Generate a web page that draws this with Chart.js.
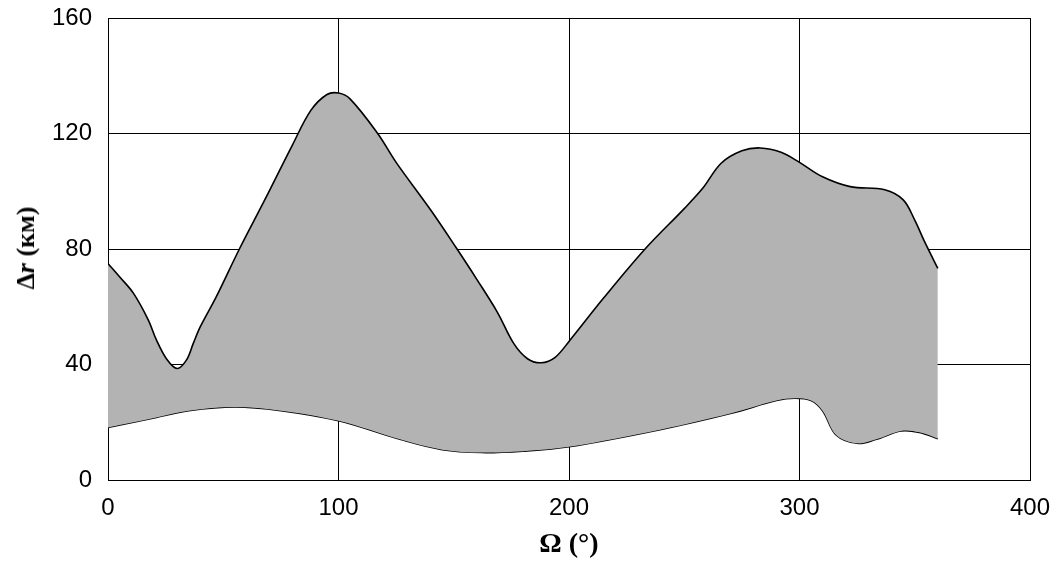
<!DOCTYPE html>
<html>
<head>
<meta charset="utf-8">
<script src="https://cdn.jsdelivr.net/npm/chart.js@4/dist/chart.umd.min.js"></script>
<style>
  html, body { margin: 0; padding: 0; background: #fff; }
  #wrap { position: relative; width: 1056px; height: 563px; }
  #ytitle {
    position: absolute; left: 26px; top: 248px;
    transform: translate(-50%, -50%) rotate(-90deg);
    font: bold 26px "Liberation Serif", "Times New Roman", serif;
    color: #000; white-space: nowrap;
  }
</style>
</head>
<body>
<div id="wrap">
  <canvas id="c" width="1056" height="563"></canvas>
  <div id="ytitle">Δ<i>r</i> (км)</div>
</div>
<script>
// Upper curve Δr (km) vs Ω (deg)
const upperOmega = [0, 5, 11, 17.5, 21, 25.5, 30, 34, 37, 40, 47, 57, 68, 80, 88, 95, 100, 105, 117, 125, 140, 151, 160, 169, 176, 182, 188, 194, 200, 215, 233, 250, 258, 266, 275, 283, 292, 300, 310, 322, 337, 345, 350, 354, 360];
const upperDr    = [75, 70.4, 64.7, 55.4, 48.5, 41.8, 38.6, 41.5, 47.3, 53, 63.5, 80, 97, 116, 128, 133.5, 134, 132, 120, 110, 93.5, 80.5, 69.5, 58, 47.3, 42, 40.6, 42.5, 48, 63, 80, 94, 101, 109.7, 114, 115, 113.5, 110, 105, 101.6, 100.5, 97, 90, 83, 73.3];
// Lower curve
const lowerOmega = [0, 20, 35, 55, 75, 100, 127, 145, 162, 180, 200, 240, 270, 290, 298, 305, 310, 316, 325, 333, 344, 352, 360];
const lowerDr    = [18.2, 21.5, 24, 25.3, 24, 20.5, 14, 10.5, 9.5, 10, 11.5, 17.5, 23, 27.5, 28.3, 27.5, 24, 15.5, 12.7, 14, 17, 16.5, 14.3];

const xTicks = [0, 100, 200, 300, 400];
const yTicks = [0, 40, 80, 120, 160];

const toPts = (xs, ys) => xs.map((x, i) => ({ x: x, y: ys[i] }));

new Chart(document.getElementById('c'), {
  type: 'line',
  data: {
    datasets: [
      {
        data: toPts(upperOmega, upperDr),
        borderColor: '#000', borderWidth: 1.6,
        backgroundColor: '#b3b3b3',
        fill: '+1', pointRadius: 0, tension: 0.35
      },
      {
        data: toPts(lowerOmega, lowerDr),
        borderColor: '#000', borderWidth: 1.6,
        fill: false, pointRadius: 0, tension: 0.35
      }
    ]
  },
  options: {
    responsive: false, animation: false,
    layout: { padding: { top: 18, right: 26, left: 0, bottom: 0 } },
    plugins: { legend: { display: false }, tooltip: { enabled: false } },
    scales: {
      x: {
        type: 'linear', min: xTicks[0], max: xTicks[xTicks.length - 1], z: 1,
        afterBuildTicks: s => { s.ticks = xTicks.map(v => ({ value: v })); },
        afterFit: s => { s.height = 83; s.paddingLeft = 0; s.paddingRight = 0; },
        grid: { color: '#000', lineWidth: 1, drawTicks: false },
        border: { color: '#000', width: 1 },
        ticks: { color: '#000', padding: 14, font: { family: '"Liberation Sans", Arial, sans-serif', size: 24 } },
        title: { display: true, text: 'Ω (°)', color: '#000', padding: { top: 0, bottom: 1 },
                 font: { family: '"Liberation Serif", "Times New Roman", serif', size: 28, weight: 'bold' } }
      },
      y: {
        type: 'linear', min: yTicks[0], max: yTicks[yTicks.length - 1], z: 1,
        afterBuildTicks: s => { s.ticks = yTicks.map(v => ({ value: v })); },
        afterFit: s => { s.width = 108; s.paddingTop = 0; s.paddingBottom = 0; },
        grid: { color: '#000', lineWidth: 1, drawTicks: false },
        border: { color: '#000', width: 1 },
        ticks: { color: '#000', padding: 16, font: { family: '"Liberation Sans", Arial, sans-serif', size: 24 } }
      }
    }
  }
});
</script>
</body>
</html>
